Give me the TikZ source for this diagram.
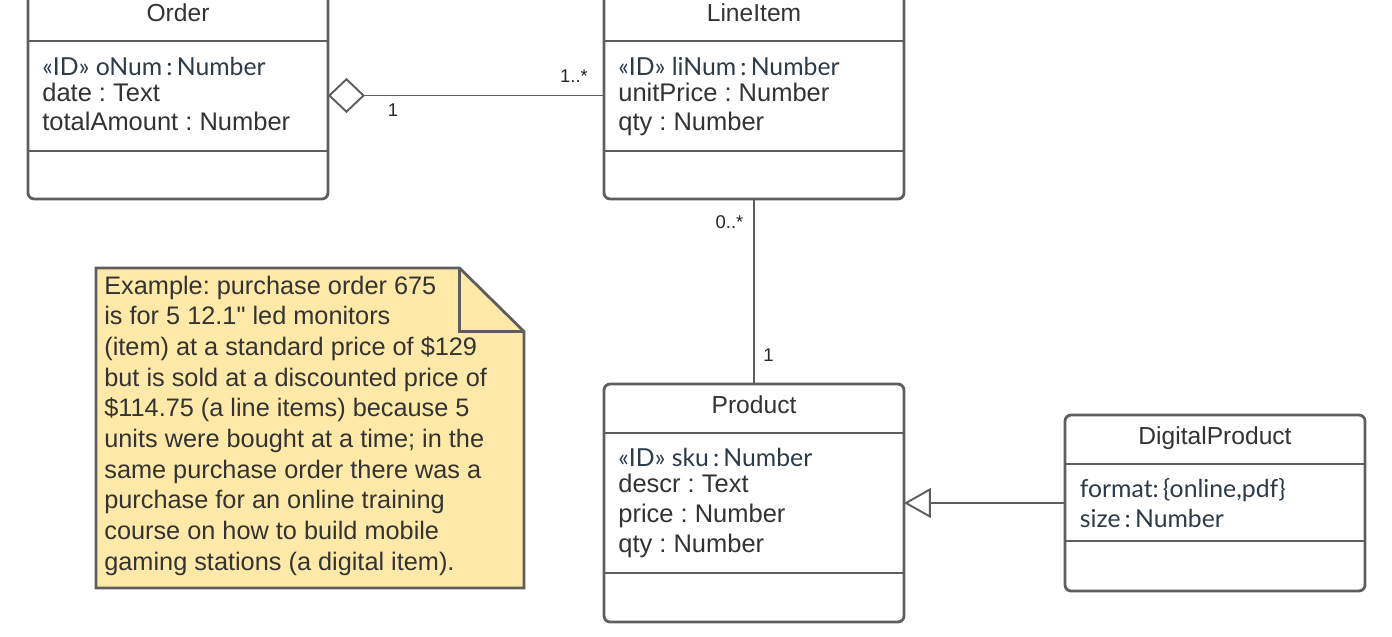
\documentclass[tikz,border=0pt]{standalone}
\usepackage{fontspec}
\setmainfont{Liberation Sans}
\newfontfamily\latofont{Lato}
\usetikzlibrary{arrows.meta}
\frenchspacing
\definecolor{linegray}{HTML}{5E5E5E}
\definecolor{textgray}{HTML}{333333}
\definecolor{idblue}{HTML}{2D3A48}
\definecolor{notefill}{HTML}{FFE9A8}
\tikzset{
  classbox/.style={draw=linegray, line width=1.6pt, rounded corners=3.5pt, fill=white,
    minimum width=6cm, inner sep=0pt, outer sep=0pt},
  sepline/.style={draw=linegray, line width=1.6pt},
  title/.style={font=\fontsize{14}{16}\selectfont, text=textgray, anchor=base, inner sep=0pt},
  attr/.style={font=\fontsize{14.5}{17}\selectfont, text=textgray, anchor=base west, inner sep=0pt},
  idattr/.style={font=\latofont\fontsize{14.1}{17}\selectfont, text=idblue, anchor=base west, inner sep=0pt},
  mult/.style={font=\fontsize{10.5}{12}\selectfont, text=black!85, inner sep=0pt},
  assoc/.style={draw=linegray, line width=1.1pt},
  notetext/.style={font=\fontsize{14.4}{17.4}\selectfont, text=textgray, anchor=base west, inner sep=0pt}
}
\begin{document}
\begin{tikzpicture}
\useasboundingbox (0,0) rectangle (27.84,-12.74);

% class boxes
\node[classbox, minimum height=4.14cm] (order) at (3.56,-1.91) {};
\node[classbox, minimum height=4.14cm] (lineitem) at (15.08,-1.91) {};
\node[classbox, minimum height=4.76cm] (product) at (15.08,-10.06) {};
\node[classbox, minimum height=3.52cm] (digital) at (24.3,-10.06) {};

% compartments
\foreach \b/\ya/\yb in {order/-0.82/-3.02, lineitem/-0.82/-3.02, product/-8.66/-11.46, digital/-9.28/-10.82} {
  \draw[sepline] (\b.west |- 0,\ya) -- (\b.east |- 0,\ya);
  \draw[sepline] (\b.west |- 0,\yb) -- (\b.east |- 0,\yb);
}

% titles
\node[title] (order-t) at (3.56,-0.434) {Order};
\node[title] (lineitem-t) at (15.08,-0.434) {LineItem};
\node[title] (product-t) at (15.08,-8.266) {Product};
\node[title] (digital-t) at (24.3,-8.88) {DigitalProduct};

% attributes
\node[idattr] (order-a1) at (0.84,-1.514) {«ID» oNum\,:\,Number};
\node[attr] (order-a2) at (0.84,-2.034) {date : Text};
\node[attr] (order-a3) at (0.84,-2.62) {totalAmount : Number};

\node[idattr] (lineitem-a1) at (12.36,-1.514) {«ID» liNum\,:\,Number};
\node[attr] (lineitem-a2) at (12.36,-2.034) {unitPrice : Number};
\node[attr] (lineitem-a3) at (12.36,-2.62) {qty : Number};

\node[idattr] (product-a1) at (12.36,-9.334) {«ID» sku\,:\,Number};
\node[attr] (product-a2) at (12.36,-9.854) {descr : Text};
\node[attr] (product-a3) at (12.36,-10.454) {price : Number};
\node[attr] (product-a4) at (12.36,-11.054) {qty : Number};

\node[idattr] (digital-a1) at (21.59,-9.954) {format:\,\{online,pdf\}};
\node[idattr] (digital-a2) at (21.59,-10.554) {size\,:\,Number};

% connectors
\draw[assoc, -{Diamond[open, fill=white, length=21pt, width=20pt]}] (lineitem.west) -- (order.east);
\draw[assoc] (lineitem.south) -- (product.north);
\draw[assoc, -{Triangle[open, fill=white, length=15.3pt, width=17pt]}] (digital.west) -- (product.east);

% multiplicities
\node[mult] (m-order) at (7.86,-2.2) {1};
\node[mult] (m-lineitem) at (11.48,-1.52) {1..*};
\node[mult] (m-li-down) at (14.59,-4.44) {0..*};
\node[mult] (m-product) at (15.37,-7.1) {1};

% note
\draw[draw=linegray, line width=1.6pt, fill=notefill, line join=miter]
  (1.92,-5.36) -- (9.19,-5.36) -- (10.48,-6.63) -- (10.48,-11.76) -- (1.92,-11.76) -- cycle;
\draw[draw=linegray, line width=1.6pt] (9.19,-5.36) -- (9.19,-6.63) -- (10.48,-6.63);
\foreach \ln [count=\i from 0] in {{Example: purchase order 675},
  {is for 5 12.1\textquotedbl{} led monitors},
  {(item) at a standard price of \$129},
  {but is sold at a discounted price of},
  {\$114.75 (a line items) because 5},
  {units were bought at a time; in the},
  {same purchase order there was a},
  {purchase for an online training},
  {course on how to build mobile},
  {gaming stations (a digital item).}}
\node[notetext] (note-\i) at (2.08,{-(294.3+30.67*\i)/50}) {\ln};
\end{tikzpicture}
\end{document}
